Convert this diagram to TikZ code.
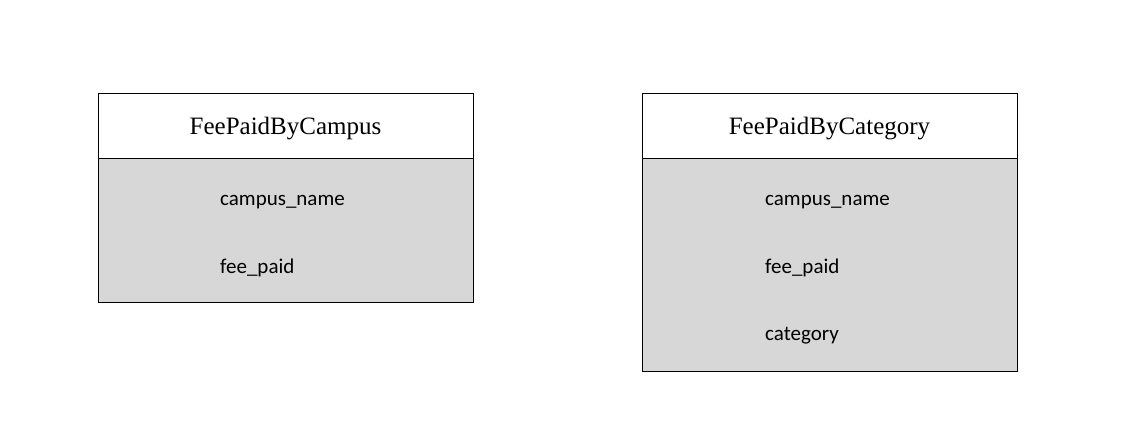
\documentclass[tikz,border=0pt]{standalone}
\usepackage{fontspec}
\setmainfont{Liberation Serif}
\newfontfamily\fieldfont{Carlito}
\definecolor{bodygray}{HTML}{D7D7D7}
\tikzset{
  hdr/.style={draw=black, line width=1.2pt, fill=white, minimum width=375pt, minimum height=65pt, inner sep=0pt, anchor=north west},
  title/.style={anchor=base, inner sep=0pt, font=\fontsize{25}{28}\selectfont},
  bodybox/.style={draw=black, line width=1.2pt, fill=bodygray, minimum width=375pt, inner sep=0pt, anchor=north west},
  field/.style={anchor=base west, inner sep=0pt, font=\fieldfont\fontsize{21}{24}\selectfont}
}
\begin{document}
\begin{tikzpicture}[x=1pt,y=-1pt]
\useasboundingbox (0,0) rectangle (1128,433);
% left table
\node[bodybox, minimum height=144pt] (lbody) at (98,158) {};
\node[hdr] (lhead) at (98,93) {};
\node[title] (ltitle) at (285.5,134.5) {FeePaidByCampus};
\node[field] (lf1) at (220,205) {campus\_name};
\node[field] (lf2) at (220,273) {fee\_paid};
% right table
\node[bodybox, minimum height=213pt] (rbody) at (642,158) {};
\node[hdr] (rhead) at (642,93) {};
\node[title] (rtitle) at (829.5,134.5) {FeePaidByCategory};
\node[field] (rf1) at (765,205) {campus\_name};
\node[field] (rf2) at (765,273) {fee\_paid};
\node[field] (rf3) at (765,340) {category};
\end{tikzpicture}
\end{document}
